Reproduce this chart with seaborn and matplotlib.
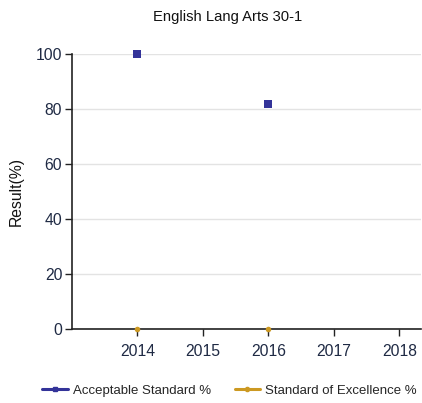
import matplotlib
matplotlib.use("Agg")
import matplotlib.pyplot as plt
from matplotlib.lines import Line2D
import seaborn as sns
import pandas as pd
import numpy as np

title = "English Lang Arts 30-1"
years = [2014, 2015, 2016, 2017, 2018]
acceptable = [100, np.nan, 82, np.nan, np.nan]
excellence = [0, np.nan, 0, np.nan, np.nan]
series_names = ["Acceptable Standard %", "Standard of Excellence %"]
colors = ["#333399", "#CC9922"]
markers = ["s", "o"]
yticks = [0, 20, 40, 60, 80, 100]

sns.set_style("white")
plt.rcParams['font.family'] = ['Liberation Sans', 'DejaVu Sans']

df = pd.DataFrame({
    "Year": years * 2,
    "Value": acceptable + excellence,
    "Series": [series_names[0]] * len(years) + [series_names[1]] * len(years),
}).dropna()

fig = plt.figure(figsize=(4.22, 4.03), dpi=100)
ax = fig.add_axes([0.1706, 0.1836, 0.8270, 0.6812])

for name, col, mk, size in zip(series_names, colors, markers, [30, 16]):
    sub = df[df["Series"] == name]
    sns.scatterplot(data=sub, x="Year", y="Value", color=col, marker=mk, s=size,
                    linewidth=0, ax=ax, clip_on=False, zorder=5, legend=False)

ax.set_xlim(2013.0, 2018.33)
ax.set_ylim(0, 100)
ax.set_xticks(years)
ax.set_xticklabels([str(y) for y in years])
ax.set_yticks(yticks)
ax.yaxis.grid(True, color="#e3e3e3", linewidth=1)
ax.set_axisbelow(True)
for s in ["top", "right"]:
    ax.spines[s].set_visible(False)
for s in ["left", "bottom"]:
    ax.spines[s].set_color("#222222")
    ax.spines[s].set_linewidth(1.2)
ax.tick_params(axis="both", direction="out", length=5, width=1, color="#222222",
               labelsize=11.3, labelcolor="#1f2a44", pad=2, bottom=True, left=True)
ax.tick_params(axis="x", pad=6)
ax.set_xlabel("")
ax.set_ylabel("Result(%)", fontsize=11.3, color="#111111", labelpad=9)
fig.text(0.54, 0.957, title, ha="center", va="center", fontsize=10.6, color="#111111")

handles = [Line2D([0], [0], color=c, marker=m, markersize=3, linewidth=2.2)
           for c, m in zip(colors, markers)]
fig.legend(handles, series_names, loc="center", bbox_to_anchor=(0.544, 0.03), ncol=2,
           frameon=False, fontsize=9.5, handlelength=1.9, columnspacing=1.8,
           handletextpad=0.4, borderpad=0, borderaxespad=0)

fig.savefig("out.png", dpi=100)
